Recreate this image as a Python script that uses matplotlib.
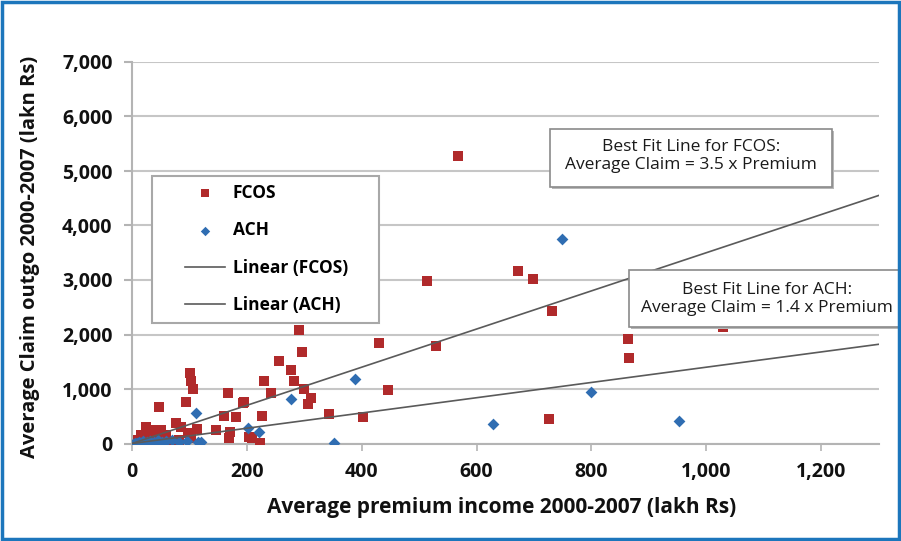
import numpy as np
import matplotlib
matplotlib.use('Agg')
import matplotlib.pyplot as plt
from matplotlib.patches import Rectangle

plt.rcParams['font.family'] = ['Open Sans', 'DejaVu Sans']

# FCOS points (lakh Rs)
fcos_premium = [567, 673, 699, 732, 863, 866, 1030, 727, 513, 529, 445, 430,
                290, 296, 256, 277, 230, 282, 242, 299, 311, 306, 195, 226,
                343, 402, 209, 223, 101, 103, 106, 167, 193, 94, 47, 160, 181,
                146, 170, 169, 77, 24, 50, 85, 97, 103, 82, 68, 33, 16, 10,
                42, 59, 24, 113, 203]
fcos_claim = [5270, 3160, 3010, 2440, 1920, 1560, 2130, 450, 2980, 1780, 990, 1850,
              2080, 1670, 1520, 1350, 1150, 1150, 930, 1000, 840, 730, 760, 510,
              540, 490, 100, 10, 1300, 1150, 1000, 930, 750, 760, 670, 510, 490,
              250, 210, 100, 380, 300, 250, 300, 190, 100, 60, 10, 250, 160, 60,
              120, 160, 60, 270, 120]

# ACH points
ach_premium = [748, 800, 628, 953, 388, 277, 202, 221, 351, 111, 115,
               2, 5, 8, 12, 16, 20, 26, 32, 38, 45, 52, 60, 70, 82, 95, 120]
ach_claim = [3750, 950, 360, 410, 1190, 820, 285, 210, 10, 560, 30,
             0, 15, 5, 25, 10, 40, 20, 50, 30, 60, 20, 40, 70, 30, 45, 30]

fcos_slope = 3.5
ach_slope = 1.4
x_ticks = [0, 200, 400, 600, 800, 1000, 1200]
y_ticks = [0, 1000, 2000, 3000, 4000, 5000, 6000, 7000]

W, H = 901, 541
fig = plt.figure(figsize=(W / 100, H / 100), dpi=100)
ax = fig.add_axes([132 / W, 1 - 443.5 / H, 746.5 / W, 381.5 / H])

red = '#B02A2B'
blue = '#2F6DB2'
grey_line = '#5a5a5a'

ax.scatter(fcos_premium, fcos_claim, marker='s', s=44, color=red, lw=0, zorder=3, label='FCOS')
ax.scatter(ach_premium, ach_claim, marker='D', s=36, color=blue, lw=0, zorder=3, label='ACH')

xl = np.array([0, 1300])
ax.plot(xl, fcos_slope * xl, color=grey_line, lw=1.2, zorder=4, label='Linear (FCOS)')
ax.plot(xl, ach_slope * xl, color=grey_line, lw=1.2, zorder=4, label='Linear (ACH)')

ax.set_xlim(0, 1300)
ax.set_ylim(0, 7000)
ax.set_xticks(x_ticks)
ax.set_yticks(y_ticks)
ax.set_xticklabels(['{:,}'.format(v) for v in x_ticks])
ax.set_yticklabels(['{:,}'.format(v) for v in y_ticks])
ax.yaxis.grid(True, color='#c6c6c6', lw=1.5, zorder=0)
ax.set_axisbelow(True)
for s in ['top', 'right']:
    ax.spines[s].set_visible(False)
for s in ['left', 'bottom']:
    ax.spines[s].set_color('#b4b4b4')
    ax.spines[s].set_linewidth(1.5)
ax.tick_params(axis='y', length=6, width=1.5, color='#b4b4b4', pad=8, labelsize=14)
ax.tick_params(axis='x', length=5, width=1.2, color='#b4b4b4', pad=8, labelsize=14)
for lab in ax.get_xticklabels() + ax.get_yticklabels():
    lab.set_fontweight('bold')
    lab.set_color('#111111')

fig.text(30 / W, 1 - 257 / H, 'Average Claim outgo 2000-2007 (lakn Rs)', rotation=90,
         ha='center', va='center', fontsize=14.5, fontweight='bold', color='#111111')
fig.text(502 / W, 1 - 507 / H, 'Average premium income 2000-2007 (lakh Rs)',
         ha='center', va='center', fontsize=15, fontweight='bold', color='#111111')

# legend box (inside the axes so the legend draws on top of it)
ax.add_patch(Rectangle((152 / W, 1 - 323 / H), 227 / W, 147 / H, transform=fig.transFigure,
                       facecolor='white', edgecolor='#a8a8a8', lw=1.5, zorder=5, clip_on=False))
leg = ax.legend(loc='upper left', bbox_to_anchor=(185 / W, 1 - 184 / H), bbox_transform=fig.transFigure,
                frameon=False, borderpad=0, borderaxespad=0, handlelength=2.3, handletextpad=0.45,
                labelspacing=1.12, markerscale=0.8, prop={'weight': 'bold', 'size': 12.5})
leg.set_zorder(6)

# best fit annotation boxes
def note(x0, y0, x1, y1, cx, cy, txt):
    fig.patches.append(Rectangle(((x0 + 1.5) / W, 1 - (y1 + 1.5) / H), (x1 - x0) / W, (y1 - y0) / H,
                                 transform=fig.transFigure, facecolor='#b8b8b8', lw=0, zorder=7))
    fig.patches.append(Rectangle((x0 / W, 1 - y1 / H), (x1 - x0) / W, (y1 - y0) / H,
                                 transform=fig.transFigure, facecolor='white', edgecolor='#8a8a8a',
                                 lw=1.2, zorder=8))
    fig.text(cx / W, 1 - cy / H, txt, ha='center', va='center', fontsize=12.5,
             color='#1a1a1a', zorder=9, linespacing=1.1)

note(550, 129, 832, 187, 691, 156, 'Best Fit Line for FCOS:\nAverage Claim = 3.5 x Premium')
note(629, 270, 899, 327, 767, 299, 'Best Fit Line for ACH:\nAverage Claim = 1.4 x Premium')

# outer blue frame
fig.patches.append(Rectangle((2 / W, 2 / H), (W - 4) / W, (H - 4) / H, transform=fig.transFigure,
                             fill=False, edgecolor='#1c76bc', lw=2.5, zorder=10))

fig.savefig('out.png', dpi=100)
